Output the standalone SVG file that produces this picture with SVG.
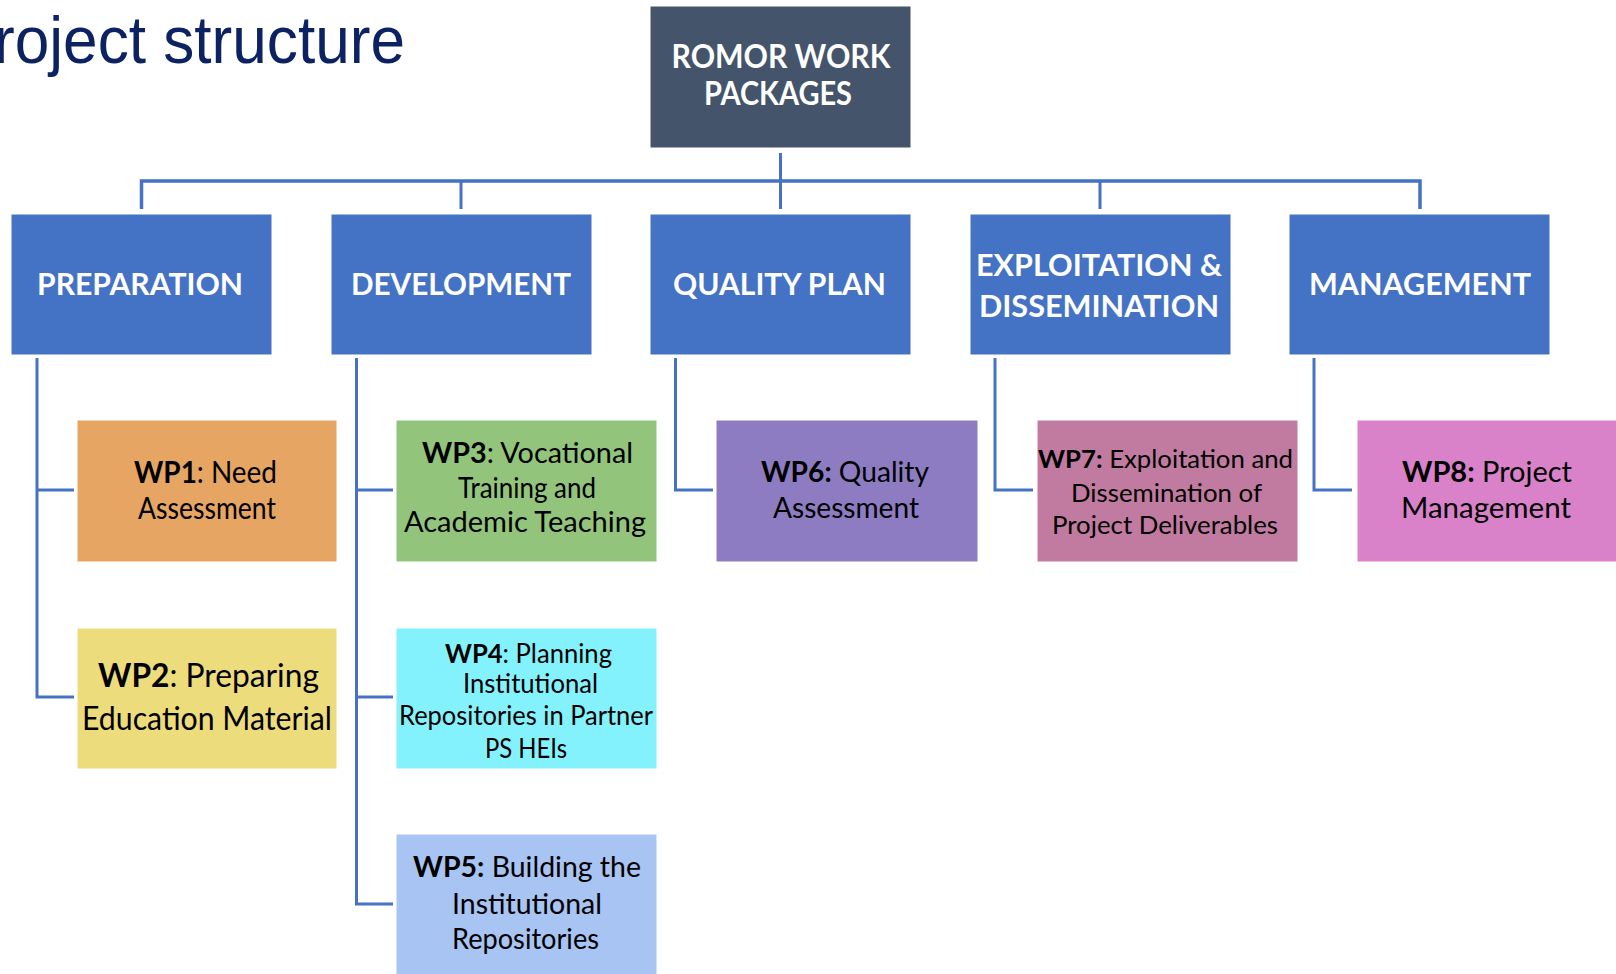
<svg xmlns="http://www.w3.org/2000/svg" width="1616" height="974" viewBox="0 0 1616 974">
<style>
.bg{fill:#ffffff}
.title{font-family:"Liberation Sans",Arial,sans-serif;font-size:67px;fill:#0c2262}
.root{fill:#44546a;stroke:#ffffff;stroke-width:1}
.cat{fill:#4472c4;stroke:#ffffff;stroke-width:1}
.wt{font-family:Lato,"Open Sans",sans-serif;font-weight:700;fill:#ffffff;text-anchor:middle}
.bt{font-family:Lato,"Open Sans",sans-serif;fill:#000000;text-anchor:middle}
.b{font-weight:700}
.wp{stroke:#ffffff;stroke-width:1}
.ln{fill:none;stroke:#4472c4;stroke-width:3}
</style>
<rect class="bg" x="0" y="0" width="1616" height="974"/>
<text id="title" class="title" x="-6" y="63" textLength="411" lengthAdjust="spacingAndGlyphs">roject structure</text>

<g id="connectors">
  <path class="ln" d="M780.5 153 V209" />
  <path class="ln" d="M141.5 209 V181 H1420 V209" style="stroke-width:3.5"/>
  <path class="ln" d="M461 181 V209 M1100 181 V209"/>
  <path class="ln" d="M37 358 V697 H74 M37 490 H74"/>
  <path class="ln" d="M356.5 358 V904 H393 M356.5 490 H393 M356.5 697 H393"/>
  <path class="ln" d="M675.5 358 V490 H713"/>
  <path class="ln" d="M995 358 V490 H1033"/>
  <path class="ln" d="M1314 358 V490 H1352"/>
</g>

<g id="root">
  <rect class="root" x="650" y="6" width="261" height="142"/>
  <text class="wt" x="781" y="68" font-size="33" textLength="219" lengthAdjust="spacingAndGlyphs">ROMOR WORK</text>
  <text class="wt" x="778" y="105" font-size="33" textLength="148" lengthAdjust="spacingAndGlyphs">PACKAGES</text>
</g>

<g id="preparation">
  <rect class="cat" x="11" y="214" width="261" height="141"/>
  <text class="wt" x="140" y="295" font-size="30" textLength="206" lengthAdjust="spacingAndGlyphs">PREPARATION</text>
</g>
<g id="development">
  <rect class="cat" x="331" y="214" width="261" height="141"/>
  <text class="wt" x="461" y="295" font-size="30" textLength="220" lengthAdjust="spacingAndGlyphs">DEVELOPMENT</text>
</g>
<g id="quality-plan">
  <rect class="cat" x="650" y="214" width="261" height="141"/>
  <text class="wt" x="779.5" y="295" font-size="30" textLength="213" lengthAdjust="spacingAndGlyphs">QUALITY PLAN</text>
</g>
<g id="exploitation">
  <rect class="cat" x="970" y="214" width="261" height="141"/>
  <text class="wt" x="1099" y="276" font-size="30" textLength="246" lengthAdjust="spacingAndGlyphs">EXPLOITATION &amp;</text>
  <text class="wt" x="1099" y="317" font-size="30" textLength="240" lengthAdjust="spacingAndGlyphs">DISSEMINATION</text>
</g>
<g id="management">
  <rect class="cat" x="1289" y="214" width="261" height="141"/>
  <text class="wt" x="1420" y="295" font-size="30" textLength="222" lengthAdjust="spacingAndGlyphs">MANAGEMENT</text>
</g>

<g id="wp1">
  <rect class="wp" x="77" y="420" width="260" height="142" fill="#e6a562"/>
  <text class="bt" x="205.5" y="483" font-size="30" textLength="143" lengthAdjust="spacingAndGlyphs"><tspan class="b">WP1</tspan>: Need</text>
  <text class="bt" x="207" y="519" font-size="30" textLength="138" lengthAdjust="spacingAndGlyphs">Assessment</text>
</g>
<g id="wp2">
  <rect class="wp" x="77" y="628" width="260" height="141" fill="#ecdc7c"/>
  <text class="bt" x="208.5" y="687" font-size="33" textLength="221" lengthAdjust="spacingAndGlyphs"><tspan class="b">WP2</tspan>: Preparing</text>
  <text class="bt" x="207" y="730" font-size="33" textLength="250" lengthAdjust="spacingAndGlyphs">Education Material</text>
</g>
<g id="wp3">
  <rect class="wp" x="396" y="420" width="261" height="142" fill="#93c47c"/>
  <text class="bt" x="527.5" y="463" font-size="29" textLength="211" lengthAdjust="spacingAndGlyphs"><tspan class="b">WP3</tspan>: Vocational</text>
  <text class="bt" x="527" y="498" font-size="29" textLength="138" lengthAdjust="spacingAndGlyphs">Training and</text>
  <text class="bt" x="525" y="532" font-size="29" textLength="242" lengthAdjust="spacingAndGlyphs">Academic Teaching</text>
</g>
<g id="wp4">
  <rect class="wp" x="396" y="628" width="261" height="141" fill="#84f2fd"/>
  <text class="bt" x="528.5" y="663" font-size="27" textLength="167" lengthAdjust="spacingAndGlyphs"><tspan class="b">WP4</tspan>: Planning</text>
  <text class="bt" x="530.5" y="693" font-size="27" textLength="135" lengthAdjust="spacingAndGlyphs">Institutional</text>
  <text class="bt" x="526" y="725" font-size="27" textLength="254" lengthAdjust="spacingAndGlyphs">Repositories in Partner</text>
  <text class="bt" x="526" y="758" font-size="27" textLength="82" lengthAdjust="spacingAndGlyphs">PS HEIs</text>
</g>
<g id="wp5">
  <rect class="wp" x="396" y="834" width="261" height="142" fill="#a8c4f3"/>
  <text class="bt" x="527" y="877" font-size="29" textLength="228" lengthAdjust="spacingAndGlyphs"><tspan class="b">WP5:</tspan> Building the</text>
  <text class="bt" x="527" y="914" font-size="29" textLength="150" lengthAdjust="spacingAndGlyphs">Institutional</text>
  <text class="bt" x="525.5" y="949" font-size="29" textLength="147" lengthAdjust="spacingAndGlyphs">Repositories</text>
</g>
<g id="wp6">
  <rect class="wp" x="716" y="420" width="262" height="142" fill="#8e7cc3"/>
  <text class="bt" x="845" y="482" font-size="29" textLength="168" lengthAdjust="spacingAndGlyphs"><tspan class="b">WP6:</tspan> Quality</text>
  <text class="bt" x="846" y="518" font-size="29" textLength="146" lengthAdjust="spacingAndGlyphs">Assessment</text>
</g>
<g id="wp7">
  <rect class="wp" x="1037" y="420" width="261" height="142" fill="#c27ba0"/>
  <text class="bt" x="1165.5" y="468" font-size="25" textLength="255" lengthAdjust="spacingAndGlyphs"><tspan class="b">WP7:</tspan> Exploitation and</text>
  <text class="bt" x="1166.5" y="502" font-size="25" textLength="191" lengthAdjust="spacingAndGlyphs">Dissemination of</text>
  <text class="bt" x="1165" y="534" font-size="25" textLength="226" lengthAdjust="spacingAndGlyphs">Project Deliverables</text>
</g>
<g id="wp8">
  <rect class="wp" x="1357" y="420" width="261" height="142" fill="#d982c9"/>
  <text class="bt" x="1487" y="482" font-size="29" textLength="170" lengthAdjust="spacingAndGlyphs"><tspan class="b">WP8:</tspan> Project</text>
  <text class="bt" x="1486" y="518" font-size="29" textLength="170" lengthAdjust="spacingAndGlyphs">Management</text>
</g>
</svg>
